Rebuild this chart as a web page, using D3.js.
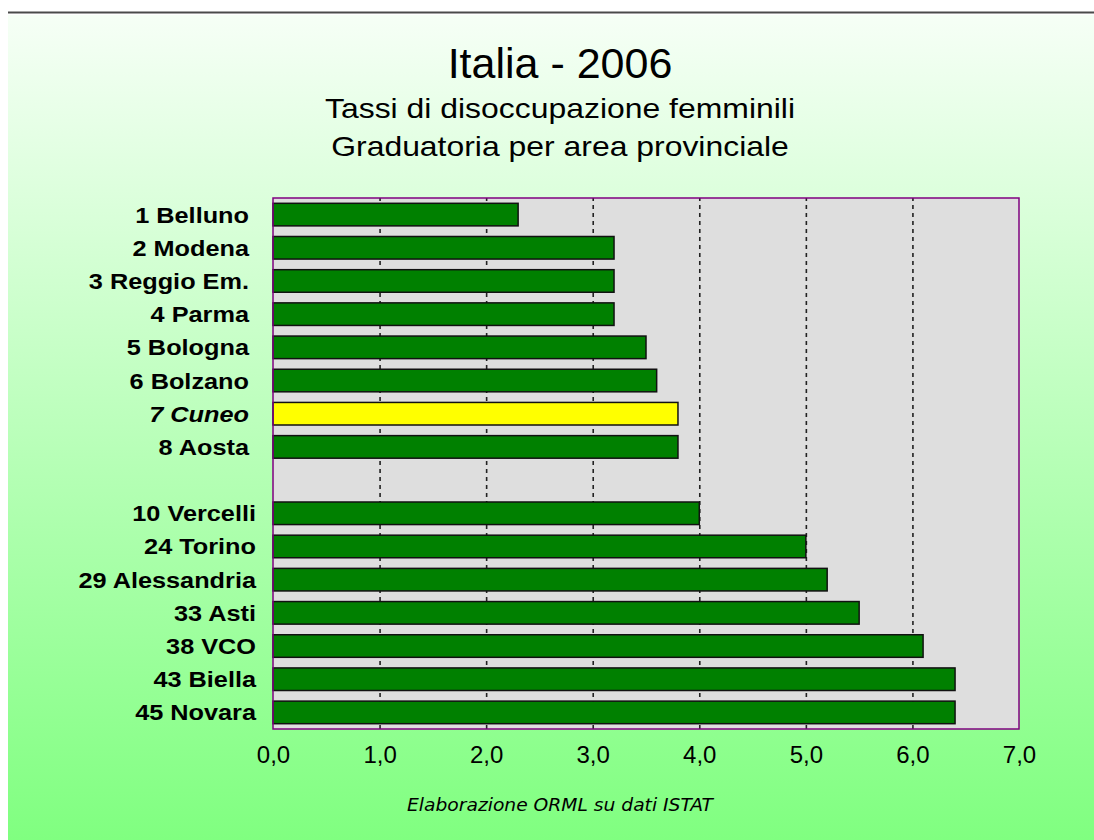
<!DOCTYPE html>
<html>
<head>
<meta charset="utf-8">
<script src="https://d3js.org/d3.v7.min.js"></script>
<style>
  body { margin: 0; background: #ffffff; }
  svg { display: block; }
</style>
</head>
<body>
<div class="chart"></div>
<script>
// dati
var provinces = ["1 Belluno", "2 Modena", "3 Reggio Em.", "4 Parma", "5 Bologna", "6 Bolzano", "7 Cuneo", "8 Aosta",
  "", "10 Vercelli", "24 Torino", "29 Alessandria", "33 Asti", "38 VCO", "43 Biella", "45 Novara"];
var rates = [2.3, 3.2, 3.2, 3.2, 3.5, 3.6, 3.8, 3.8, null, 4.0, 5.0, 5.2, 5.5, 6.1, 6.4, 6.4];
var highlight = "7 Cuneo";
var xTicks = [0, 1, 2, 3, 4, 5, 6, 7];
var title = "Italia - 2006";
var subtitle = ["Tassi di disoccupazione femminili", "Graduatoria per area provinciale"];
var source = "Elaborazione ORML su dati ISTAT";

var w = 1094, h = 840;
var plotL = 273, plotR = 1019, plotT = 198, plotB = 729;

var svg = d3.select(".chart").append("svg")
  .attr("width", w)
  .attr("height", h);

// sfondo sfumato
var grad = svg.append("defs").append("linearGradient")
  .attr("id", "bg").attr("x1", 0).attr("y1", 0).attr("x2", 0).attr("y2", 1);
grad.append("stop").attr("offset", "0%").attr("stop-color", "#f6fff6");
grad.append("stop").attr("offset", "100%").attr("stop-color", "#80ff80");

svg.append("line")
  .attr("x1", 8).attr("x2", w).attr("y1", 12.5).attr("y2", 12.5)
  .attr("stroke", "#4a4a4a").attr("stroke-width", 2);
svg.append("rect")
  .attr("x", 8).attr("y", 15).attr("width", w - 8).attr("height", h - 15)
  .attr("fill", "url(#bg)");

// titoli
svg.append("text")
  .attr("x", 560).attr("y", 78)
  .attr("text-anchor", "middle")
  .style("font-family", "Liberation Sans, Arial, sans-serif")
  .style("font-size", "43px")
  .text(title);

subtitle.forEach(function(s, i) {
  svg.append("g")
    .attr("transform", "translate(560," + (118 + i * 38) + ") scale(1.12,1)")
    .append("text")
    .attr("text-anchor", "middle")
    .style("font-family", "Liberation Sans, Arial, sans-serif")
    .style("font-size", "28.5px")
    .text(s);
});

// scale
var data = provinces.map(function(p, i) { return { name: p, value: rates[i], key: p || "gap" }; });

var x = d3.scaleLinear().domain([0, 7]).range([plotL, plotR]);
var y = d3.scaleBand()
  .domain(data.map(function(d) { return d.key; }))
  .range([plotT, plotB])
  .paddingInner(0.32)
  .paddingOuter(0.16);

// area del grafico
svg.append("rect")
  .attr("x", plotL).attr("y", plotT)
  .attr("width", plotR - plotL).attr("height", plotB - plotT)
  .attr("fill", "#dedede");

// griglia
svg.append("g")
  .attr("transform", "translate(0," + plotB + ")")
  .call(d3.axisBottom(x).tickValues(xTicks.slice(1, -1)).tickSize(-(plotB - plotT)).tickFormat(""))
  .call(function(g) { g.select(".domain").remove(); })
  .selectAll(".tick line")
  .attr("stroke", "#222")
  .attr("stroke-width", 1.6)
  .attr("stroke-dasharray", "4,4");

// barre
svg.append("g").selectAll("rect")
  .data(data.filter(function(d) { return d.value != null; }))
  .enter()
  .append("rect")
  .attr("x", x(0))
  .attr("y", function(d) { return y(d.key); })
  .attr("width", function(d) { return x(d.value) - x(0); })
  .attr("height", y.bandwidth())
  .attr("fill", function(d) { return d.name === highlight ? "#ffff00" : "#008000"; })
  .attr("stroke", "#111")
  .attr("stroke-width", 1.5);

svg.append("rect")
  .attr("x", plotL).attr("y", plotT)
  .attr("width", plotR - plotL).attr("height", plotB - plotT)
  .attr("fill", "none")
  .attr("stroke", "#800080")
  .attr("stroke-width", 1.5);

// etichette province
var lab = svg.append("g");
lab.selectAll("g")
  .data(data.filter(function(d) { return d.name; }))
  .enter()
  .append("g")
  .attr("transform", function(d) { return "translate(256," + (y(d.key) + y.bandwidth() / 2 + 8) + ") scale(1.15,1)"; })
  .append("text")
  .attr("text-anchor", "end")
  .style("white-space", "pre")
  .style("font-family", "Liberation Sans, Arial, sans-serif")
  .style("font-size", "22px")
  .style("font-weight", "bold")
  .style("font-style", function(d) { return d.name === highlight ? "italic" : "normal"; })
  .text(function(d, i) { return i < 8 ? d.name + " " : d.name; });

// asse x
var xAxis = svg.append("g")
  .attr("transform", "translate(0," + plotB + ")")
  .call(d3.axisBottom(x).tickValues(xTicks).tickSize(0).tickPadding(34)
    .tickFormat(function(d) { return d3.format(".1f")(d).replace(".", ","); }));
xAxis.select(".domain").remove();
xAxis.selectAll("text")
  .attr("fill", "#000")
  .attr("dy", 0)
  .style("font-family", "Liberation Sans, Arial, sans-serif")
  .style("font-size", "24px");

// fonte
svg.append("text")
  .attr("x", 560).attr("y", 811)
  .attr("text-anchor", "middle")
  .attr("textLength", 306)
  .attr("lengthAdjust", "spacingAndGlyphs")
  .style("font-family", "DejaVu Sans, sans-serif")
  .style("font-size", "17px")
  .style("font-style", "italic")
  .style("font-weight", "300")
  .text(source);
</script>
</body>
</html>
